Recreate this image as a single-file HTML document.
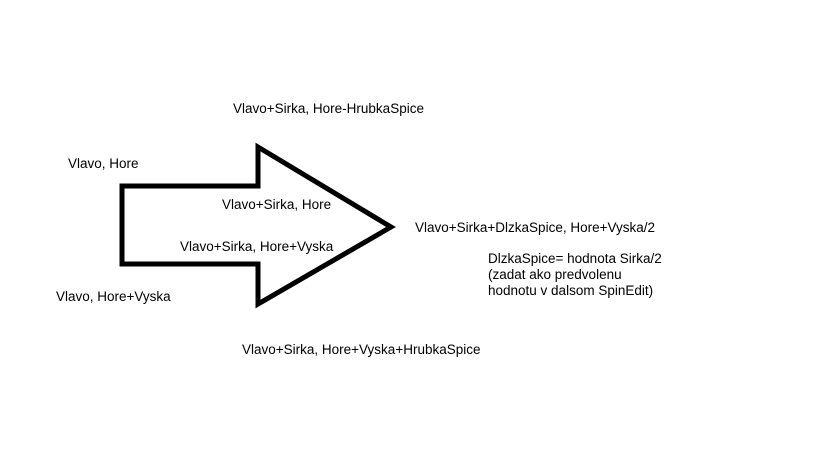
<!DOCTYPE html>
<html><head><style>
body{margin:0;width:819px;height:460px;background:#fff;overflow:hidden;position:relative;font-family:"Liberation Sans",sans-serif;font-size:13.5px;color:#000}
.t{position:absolute;white-space:nowrap;line-height:16px}
svg{position:absolute;left:0;top:0}
</style></head><body>
<svg width="819" height="460"><polygon points="122,186 258,186 258,147 391,227 258,304 258,264 122,264" fill="none" stroke="#000" stroke-width="5" stroke-linejoin="miter"/></svg>
<div class="t" style="left:233px;top:101px">Vlavo+Sirka, Hore-HrubkaSpice</div>
<div class="t" style="left:68px;top:156px">Vlavo, Hore</div>
<div class="t" style="left:222px;top:197px">Vlavo+Sirka, Hore</div>
<div class="t" style="left:180px;top:239px">Vlavo+Sirka, Hore+Vyska</div>
<div class="t" style="left:415px;top:220px">Vlavo+Sirka+DlzkaSpice, Hore+Vyska/2</div>
<div class="t" style="left:488px;top:251px">DlzkaSpice= hodnota Sirka/2</div>
<div class="t" style="left:488px;top:267px">(zadat ako predvolenu</div>
<div class="t" style="left:488px;top:283px">hodnotu v dalsom SpinEdit)</div>
<div class="t" style="left:56px;top:289px">Vlavo, Hore+Vyska</div>
<div class="t" style="left:242px;top:342px">Vlavo+Sirka, Hore+Vyska+HrubkaSpice</div>
</body></html>
